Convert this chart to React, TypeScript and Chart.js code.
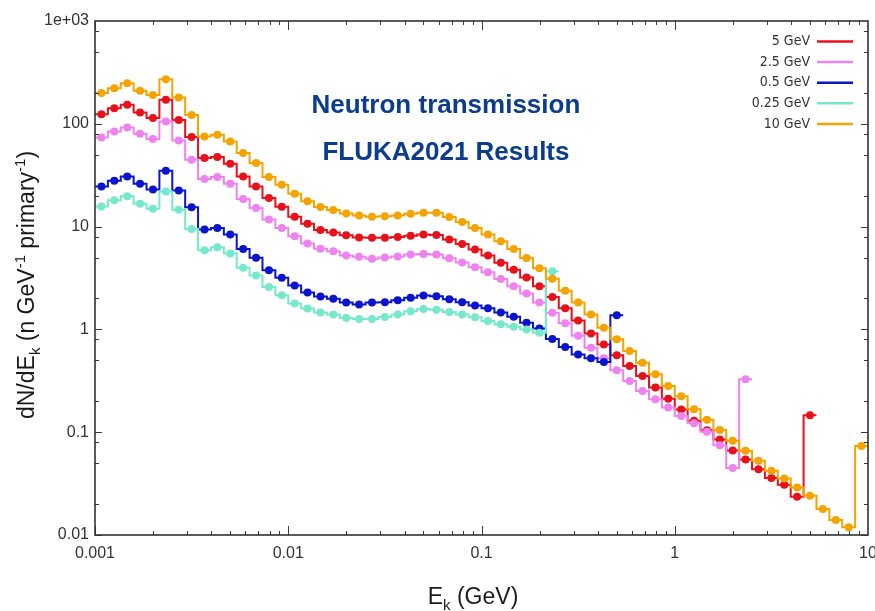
import React, { useEffect, useRef } from "react";
import { Chart, registerables } from "chart.js";

Chart.register(...registerables);

// ---- bin structure (15 logarithmic bins per decade, 0.001 .. 10 GeV) ----
const BIN_MANTISSA = [1.08, 1.259, 1.468, 1.711, 1.995, 2.326, 2.712, 3.162, 3.687, 4.299, 5.012, 5.843, 6.813, 7.943, 9.261];
const DECADES = [0.001, 0.01, 0.1, 1];
const BIN_CENTRES = DECADES.flatMap((d) => BIN_MANTISSA.map((m) => m * d));
const HALF_BIN = 1.0798; // ratio between a bin centre and its edges

// ---- axis ticks ----
const X_TICKS = [0.001, 0.01, 0.1, 1, 10];
const X_TICK_LABELS = ["0.001", "0.01", "0.1", "1", "10"];
const Y_TICKS = [0.01, 0.1, 1, 10, 100, 1000];
const Y_TICK_LABELS = ["0.01", "0.1", "1", "10", "100", "1e+03"];
const X_MINOR = [2, 3, 4, 5, 6, 7, 8, 9];
const Y_MINOR = [2, 5, 8];

// ---- series values (dN/dEk per bin) ----
const GEV5 = [124, 142, 153, 129, 114, 171, 109, 74.3, 46.5, 47.5, 40.9, 30.8, 24.6, 19.0, 15.6, 12.5, 10.65, 9.27, 8.75, 8.22, 7.82, 7.77, 7.77, 7.91, 8.13, 8.36, 8.27, 7.48, 6.76, 5.98, 5.23, 4.45, 3.8, 3.2, 2.63, 2.07, 1.61, 1.22, 0.914, 0.715, 0.56, 0.441, 0.352, 0.272, 0.211, 0.166, 0.129, 0.1045, 0.085, 0.0665, 0.0543, 0.0437, 0.0359, 0.0309, 0.0235, 0.146];
const GEV2_5 = [73.6, 84.1, 92, 80, 71, 105, 68.9, 44.7, 29.0, 30.4, 26.1, 18.6, 15.2, 11.7, 9.7, 8.05, 6.84, 6.09, 5.75, 5.23, 5.08, 4.86, 5.0, 5.12, 5.35, 5.41, 5.35, 4.91, 4.47, 4.02, 3.59, 3.1, 2.63, 2.24, 1.83, 1.45, 1.15, 0.869, 0.664, 0.523, 0.4, 0.315, 0.252, 0.209, 0.174, 0.144, 0.122, 0.101, 0.0748, 0.0449, 0.327];
const GEV0_5 = [24.6, 28, 30.8, 26.1, 22.9, 35, 22.5, 15.4, 9.35, 9.7, 8.36, 6.07, 4.97, 3.77, 3.18, 2.67, 2.29, 2.09, 1.99, 1.83, 1.75, 1.83, 1.84, 1.92, 2.03, 2.14, 2.1, 1.97, 1.84, 1.71, 1.61, 1.46, 1.33, 1.16, 1.02, 0.807, 0.675, 0.571, 0.525, 0.482, 1.37];
const GEV0_25 = [15.7, 18.0, 19.7, 16.7, 14.9, 22.0, 14.6, 9.5, 5.89, 6.3, 5.47, 3.97, 3.34, 2.58, 2.15, 1.79, 1.6, 1.46, 1.4, 1.29, 1.26, 1.26, 1.32, 1.4, 1.5, 1.58, 1.55, 1.48, 1.4, 1.31, 1.21, 1.12, 1.06, 1.0, 0.93, 3.68];
const GEV10 = [199, 222, 248, 210, 191, 272, 180, 122, 75.3, 78.2, 67.3, 52, 41.6, 30.4, 25.6, 20.9, 17.6, 15.5, 14.5, 13.4, 12.8, 12.5, 12.6, 12.8, 13.3, 13.6, 13.6, 12.4, 11.1, 9.7, 8.36, 7.2, 6.04, 4.94, 3.93, 3.11, 2.38, 1.83, 1.4, 1.04, 0.8, 0.616, 0.475, 0.366, 0.282, 0.224, 0.167, 0.132, 0.105, 0.0824, 0.0659, 0.0527, 0.0421, 0.0355, 0.029, 0.0241, 0.0179, 0.014, 0.0119, 0.0736];

const SERIES_LABELS = ["5 GeV", "2.5 GeV", "0.5 GeV", "0.25 GeV", "10 GeV"];
const SERIES_VALUES = [GEV5, GEV2_5, GEV0_5, GEV0_25, GEV10];
const SERIES_COLORS = ["#e8101a", "#ee82ee", "#0a14cc", "#76e8cc", "#f5a300"];

const TITLE_LINES = ["Neutron transmission", "FLUKA2021 Results"];

const FONT = "'Liberation Sans', Arial, Helvetica, sans-serif";
const LEGEND_FONT = "14px 'DejaVu Sans Condensed', 'Liberation Sans Narrow', 'DejaVu Sans', sans-serif";

type Part = { t: string; sub?: boolean; sup?: boolean };

function drawRich(ctx: CanvasRenderingContext2D, parts: Part[], x: number, y: number, big: number, small: number) {
  const fontOf = (p: Part) => `${p.sub || p.sup ? small : big}px ${FONT}`;
  let total = 0;
  for (const p of parts) {
    ctx.font = fontOf(p);
    total += ctx.measureText(p.t).width;
  }
  let cx = x - total / 2;
  ctx.textAlign = "left";
  ctx.textBaseline = "alphabetic";
  for (const p of parts) {
    ctx.font = fontOf(p);
    const dy = p.sub ? 6 : p.sup ? -9 : 0;
    ctx.fillText(p.t, cx, y + dy);
    cx += ctx.measureText(p.t).width;
  }
}

const decorPlugin = {
  id: "decor",
  afterDatasetsDraw(chart: any) {
    const { ctx, chartArea } = chart;
    const { left, right, top, bottom } = chartArea;
    const xs = chart.scales.x;
    const ys = chart.scales.y;
    ctx.save();
    ctx.strokeStyle = "#3a3a3a";
    ctx.lineWidth = 1;
    ctx.beginPath();
    // x ticks (bottom & top, inward)
    for (const d of [0.001, 0.01, 0.1, 1]) {
      for (const m of [1, ...X_MINOR]) {
        const v = d * m;
        const px = Math.round(xs.getPixelForValue(v)) + 0.5;
        const len = m === 1 ? 9 : 4;
        ctx.moveTo(px, bottom);
        ctx.lineTo(px, bottom - len);
        ctx.moveTo(px, top);
        ctx.lineTo(px, top + len);
      }
    }
    // y ticks (left & right, inward)
    for (const d of [0.01, 0.1, 1, 10, 100]) {
      for (const m of [1, ...Y_MINOR]) {
        const v = d * m;
        const py = Math.round(ys.getPixelForValue(v)) + 0.5;
        const len = m === 1 ? 7 : 4;
        ctx.moveTo(left, py);
        ctx.lineTo(left + len, py);
        ctx.moveTo(right, py);
        ctx.lineTo(right - len, py);
      }
    }
    ctx.stroke();
    // frame
    ctx.lineWidth = 1.6;
    ctx.strokeStyle = "#333";
    ctx.strokeRect(left, top, right - left, bottom - top);

    // titles inside the plot
    ctx.fillStyle = "#0c3c8e";
    ctx.font = `bold 26px ${FONT}`;
    ctx.textAlign = "center";
    ctx.textBaseline = "alphabetic";
    const tx = left + (right - left) * 0.454;
    ctx.fillText(TITLE_LINES[0], tx, top + (bottom - top) * 0.179);
    ctx.fillText(TITLE_LINES[1], tx, top + (bottom - top) * 0.271);

    // legend
    ctx.font = LEGEND_FONT;
    ctx.textAlign = "right";
    ctx.textBaseline = "middle";
    SERIES_LABELS.forEach((lab, i) => {
      const y = top + 20.5 + i * 20.6;
      ctx.fillStyle = "#333";
      ctx.fillText(lab, right - 58, y);
      ctx.strokeStyle = SERIES_COLORS[i];
      ctx.lineWidth = 2.5;
      ctx.beginPath();
      ctx.moveTo(right - 51, y);
      ctx.lineTo(right - 15, y);
      ctx.stroke();
    });

    // axis titles
    ctx.fillStyle = "#1a1a1a";
    drawRich(ctx, [{ t: "E" }, { t: "k", sub: true }, { t: " (GeV)" }], 473, 604, 23, 15);
    ctx.save();
    ctx.translate(34, 285);
    ctx.rotate(-Math.PI / 2);
    drawRich(
      ctx,
      [
        { t: "dN/dE" },
        { t: "k", sub: true },
        { t: " (n GeV" },
        { t: "-1", sup: true },
        { t: " primary" },
        { t: "-1", sup: true },
        { t: ")" },
      ],
      0,
      0,
      23,
      15
    );
    ctx.restore();
    ctx.restore();
  },
};

function seriesData(vals: number[]) {
  const n = vals.length;
  const pts = vals.map((v, i) => ({ x: BIN_CENTRES[i], y: v }));
  return [{ x: BIN_CENTRES[0] / HALF_BIN, y: vals[0] }, ...pts, { x: BIN_CENTRES[n - 1] * HALF_BIN, y: vals[n - 1] }];
}

export default function App() {
  const ref = useRef<HTMLCanvasElement | null>(null);
  useEffect(() => {
    if (!ref.current) return;
    const datasets = SERIES_VALUES.map((vals, i) => ({
      label: SERIES_LABELS[i],
      data: seriesData(vals),
      borderColor: SERIES_COLORS[i],
      backgroundColor: SERIES_COLORS[i],
      pointBackgroundColor: SERIES_COLORS[i],
      pointBorderWidth: 0,
      pointRadius: (c: any) => (c.dataIndex === 0 || c.dataIndex === vals.length + 1 ? 0 : 4),
      borderWidth: 2,
      stepped: "middle" as const,
      fill: false,
      order: i === 4 ? 0 : 5 - i,
    }));
    const chart = new Chart(ref.current, {
      type: "line",
      data: { datasets },
      options: {
        animation: false,
        responsive: false,
        devicePixelRatio: 1,
        layout: { padding: { left: 0, right: 7, top: 21, bottom: 0 } },
        plugins: { legend: { display: false }, tooltip: { enabled: false }, title: { display: false } },
        scales: {
          x: {
            type: "logarithmic",
            min: 0.001,
            max: 10,
            grid: { display: false, drawTicks: false },
            border: { display: false },
            ticks: {
              autoSkip: false,
              maxRotation: 0,
              padding: 9,
              color: "#333",
              font: { family: FONT, size: 16 },
              callback: (_v: any, idx: number) => X_TICK_LABELS[idx],
            },
            afterBuildTicks: (s: any) => {
              s.ticks = X_TICKS.map((v) => ({ value: v }));
            },
            afterFit: (s: any) => {
              s.height = 76;
              s.paddingLeft = 0;
              s.paddingRight = 0;
            },
          },
          y: {
            type: "logarithmic",
            min: 0.01,
            max: 1000,
            grid: { display: false, drawTicks: false },
            border: { display: false },
            ticks: {
              autoSkip: false,
              padding: 6,
              color: "#333",
              font: { family: FONT, size: 16 },
              callback: (_v: any, idx: number) => Y_TICK_LABELS[idx],
            },
            afterBuildTicks: (s: any) => {
              s.ticks = Y_TICKS.map((v) => ({ value: v }));
            },
            afterFit: (s: any) => {
              s.width = 95;
              s.paddingTop = 0;
              s.paddingBottom = 0;
            },
          },
        },
      },
      plugins: [decorPlugin],
    } as any);
    return () => chart.destroy();
  }, []);
  return (
    <div style={{ position: "absolute", left: 0, top: 0, width: 875, height: 611, background: "#fff" }}>
      <canvas ref={ref} width={875} height={611} style={{ display: "block", width: 875, height: 611 }} />
    </div>
  );
}
